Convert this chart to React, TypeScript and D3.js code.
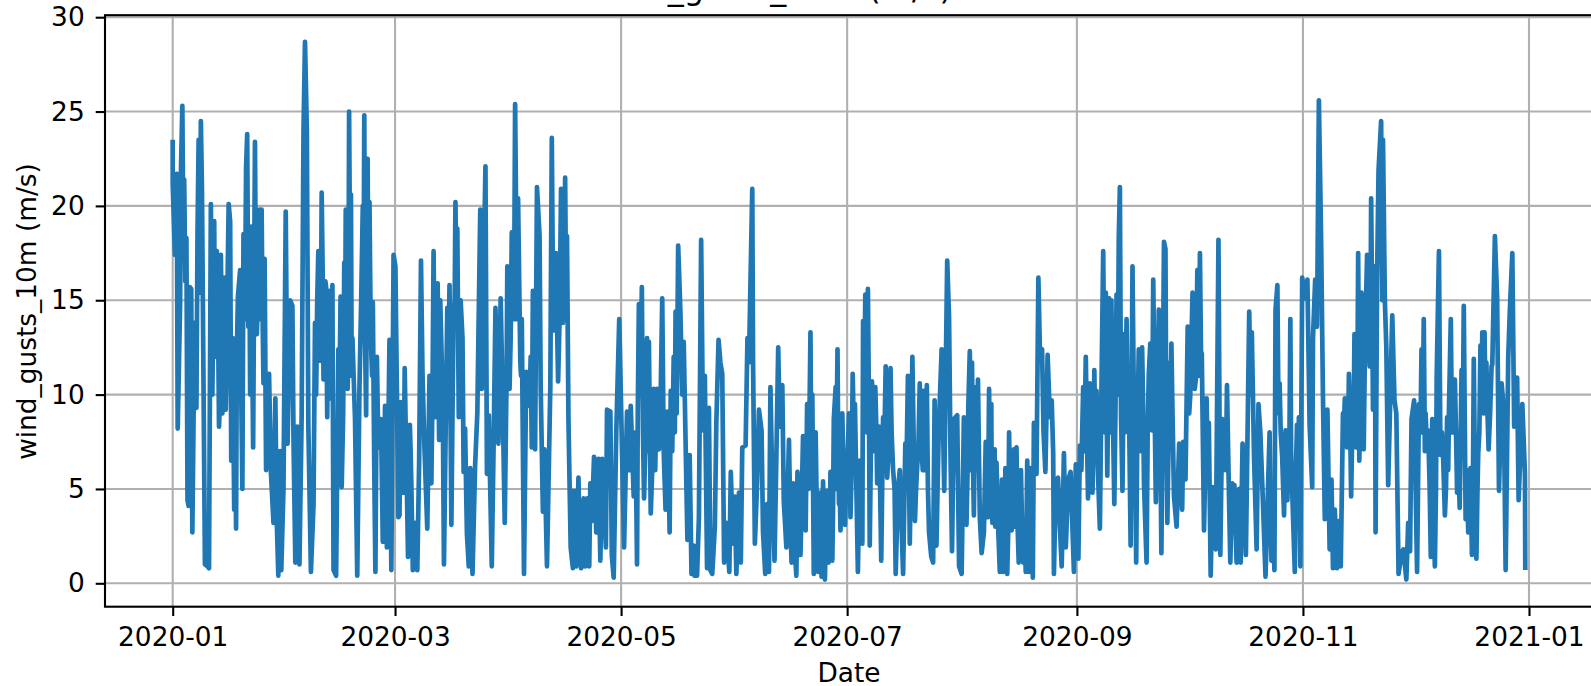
import React from "react";
import * as d3 from "d3";

// days since 2020-01-01 and gust speed (m/s)
const janFebDays = [0,0,.6,1.1,1.35,2,2.2,2.6,2.9,3.1,3.4,3.7,4,4.3,4.6,5,5.3,5.9,6.4,6.7,7,7.2,7.6,7.9,8.7,9.4,9.8,10.3,10.7,11.2,11.6,11.9,12.5,13,13.4,13.9,14.3,14.8,15.1,15.5,15.8,16.2,16.6,17.1,17.6,18.2,18.8,19.1,19.8,20.1,20.4,21.1,21.7,22.2,22.7,23.4,24,24.5,24.8,25.2,26,26.5,27.2,27.7,28.1,28.5,29,29.3,29.9,30.5,31,31.7,32.3,32.6,33.1,33.6,34.2,34.8,35.3,35.7,36.2,36.6,37.3,38,38.4,39.3,39.8,40.2,40.7,41.4,41.7,42.2,42.7,43.1,43.4,44.1,44.7,45.3,45.6,46.3,46.7,47.2,47.6,48.1,48.5,49.2,49.8,50.4,50.9,51.3,51.7,52.2,52.6,53.1,53.5,54,54.4,54.7,55.1,55.5,56.2,56.7,57.3,57.8,58.5,59,59.6,60.1,60.9];
const janFebGusts = [23.5,21.2,17.4,21.7,8.2,14.8,21.6,25.3,17.6,21.4,16,18.3,4.4,4.1,15.7,15.6,2.7,13.8,9.3,18.6,23.5,15.4,24.5,20.8,1,.9,.8,20.1,10,19.2,13.2,17.6,8.3,17.4,9,16.2,9.2,15.9,20.1,19.2,6.5,13,3.9,2.9,15.2,16.6,5,18.5,22,23.8,13.6,18.9,7.2,23.4,13.2,19.8,19.8,10.6,17.2,6,11.1,5.9,3.2,9.8,3.2,.4,7,.7,5.1,19.7,7.4,15,14.7,7.6,1.1,8.3,1,8.9,24,28.7,24,8.4,.6,4.2,13.8,17.6,11.8,20.7,10.8,15.7,8.8,15.5,9.8,15.8,.7,.4,12.4,15.2,5.1,17,19.8,10.3,25,20.6,13,8.7,.4,10.4,15.4,20,24.8,8.9,22.5,20.2,12.8,14.9,6,.6,12,7.2,8.7,2.2,9.4,1.9,12.9,.7,17.4,16.8,3.5];

const marAprDays = [61.2,61.5,62.3,62.6,63.2,63.5,64,64.4,64.8,65.5,66,66.5,67,67.4,67.9,68.7,69.3,69.8,70.4,70.8,71.5,71.9,72.6,73.2,73.8,74.1,74.7,75.2,75.8,76.3,76.8,77.2,77.7,78.5,78.9,79.4,79.9,80.3,80.9,81.6,82.2,83,83.4,83.9,84.4,84.8,85.3,86.1,86.6,87.1,87.9,88.5,89,89.6,90.3,90.9,91.5,92.4,92.9,93.2,93.8,94.2,94.8,95.4,96.3,96.9,97.2,97.8,98.3,99,99.3,99.9,100.3,101,101.9,102.3,102.8,103.4,104,104.8,105.3,105.9,106.4,106.8,107.4,108,108.3,108.9,109.5,110.2,110.9,111.3,111.9,112.4,112.7,113.1,113.7,114.3,114.9,115.4,115.9,116.9,117.2,118.1,118.5,119,119.7,120.5];
const marAprGusts = [3.6,9.6,4.8,11.4,5,1.4,8.4,5.2,.7,3.2,.7,6.4,17.1,11.2,7.4,2.9,11,5.3,17.6,8.8,15.9,7.6,11.8,1,10.2,14.6,15.8,3.1,14.4,20.2,18.8,8.8,15,5.9,8.2,2.6,.9,6.1,.5,6.2,9,19.8,10.3,16.4,22.1,5.8,8.9,.9,7.4,14.6,7.4,15.1,10.2,3.2,16.8,10.3,18.6,25.4,14,20.4,11.8,14,.5,11.2,9.4,7.2,15.5,7.1,21,18.4,10.4,3.8,7.1,.9,10.4,23.6,13.4,17.5,10.7,20.9,13.8,21.5,18.4,8.6,1.9,.8,4.9,.9,5.6,.8,4.5,.9,4.5,.9,5.3,3.3,6.7,2.7,6.6,1.2,6.6,1.9,9.2,9.1,1.5,.3,8,14];

const mayJunDays = [121.8,122.6,123.6,124.4,124.9,125.3,125.8,126.6,127.2,128,128.5,129,129.8,130.7,131.2,132.1,133,133.5,134.1,134.4,135.2,135.7,136.4,137,137.5,137.9,138.6,138.9,139.5,140,140.6,140.8,141.5,142,142.6,143.1,143.6,144.2,144.7,145.1,145.6,146.3,146.7,147.3,147.8,148.3,148.8,149.4,150.2,150.6,151.2,151.7,152.1,152.8,153.3,153.7,154.6,155.1,155.5,156.4,156.6,157.1,157.7,158.2,158.9,159.3,159.9,160.4,160.9,161.3,161.8,162.4,162.9,163.4,163.8,164.5,164.9,165.6,166.3,167,167.4,168.3,168.6,169.4,170.1,170.8,171.2,172.1,172.6,173,173.5,174.2,174.8,175.1,175.5,176,176.6,177,177.5,178,178.4,178.9,179.4,179.8,180.2,180.7,181.4];
const mayJunGusts = [1.9,9.1,9.4,4.6,8,1,14.8,15.7,4.5,13,12.8,3.7,10.3,10.3,7.1,15.1,3.9,9.1,2.7,10.2,12,14.4,17.9,14.4,10,12.8,5.4,2.3,6.8,.5,2,.4,.4,3.5,18.2,8.1,11,.8,9.3,.7,.5,3,8.5,12.9,11.7,11.1,1.1,3.2,.6,5.9,2.1,4.6,.5,4.8,1.1,7.2,7.3,13,11.7,20.9,12,2.1,5.3,9.2,8.1,2.7,.5,4.2,.6,10.4,5.3,1.2,6.7,12.5,8.3,10.5,4.4,1.9,7.6,1.1,5.3,.4,5.9,1.5,7.8,2.8,9.5,13.3,10,.5,8,.6,4.8,.35,5.4,.2,4.9,1.1,5.9,1.2,8.7,10.4,12.4,4.2,2.8,9,3.1];

const julAugDays = [182.2,182.5,182.9,183.5,184.1,184.9,185.4,186.1,186.3,186.9,187.2,187.6,188.1,188.7,189.6,190.1,190.6,191.2,191.7,192.4,192.8,193.7,194.4,195.1,195.7,196.2,197.1,197.7,198.4,198.9,199.6,200.3,200.9,201.6,202.1,202.6,203.1,203.5,204.1,204.7,205.2,205.6,206.1,206.7,207.5,208.2,209,209.5,209.9,210.3,210.8,211.7,212.2,212.9,213.5,214.2,214.7,215.1,215.7,216.2,216.7,217.3,217.8,218.3,218.9,219.4,220,220.3,220.9,221.2,221.8,222.3,222.8,223.2,223.8,224.1,224.7,225.2,225.7,226.4,227,227.7,228.3,228.9,229.5,230.2,230.6,231.1,231.6,232.1,232.4,233.1,233.6,234,234.6,235,235.5,236.1,236.7,237.2,237.6,237.8,238.3,238.9,239.4,239.9,240.5,241,241.7,242.3,243.2,243.7];
const julAugGusts = [7.2,9,3.5,11.1,9.5,.6,6.5,2.1,13.9,15.3,8,15.6,2,10.7,10.4,5.3,8.3,1.2,8.8,11.5,5.6,11.4,6,.5,4.9,6,.5,7.4,11,2.1,12,3.3,6.2,10.6,7.2,10.2,7.8,10.5,2.7,1.4,1.1,9.7,2,8,12.4,4.9,17.1,14.1,6.7,1.7,8.7,8.9,.9,.5,8.8,3.1,9.4,12.3,11.7,3.6,10.4,10.8,3.5,1.6,2.7,7.5,3.5,10.3,9.5,3.2,7.1,6.4,2.7,.6,5.5,.6,6.1,.5,8,2.8,7.1,7.2,1.1,6,1.1,.6,6.5,.6,6.1,.3,8.5,5.8,16.2,12.5,12.4,8,5.9,12.1,8.8,9.7,6.9,.5,5.3,5.6,3,.9,6.9,1.9,5.5,5.9,.6,6.3];

const sepOctDays = [244.4,244.8,245.7,246.4,247,247.5,248.2,248.7,249.3,249.8,250.2,250.7,251.1,251.8,252.2,252.7,253.3,254.1,254.7,255.3,255.6,256.3,256.7,257.4,258,258.5,259,259.6,260,260.7,261.6,262.1,262.8,263.4,263.8,264.3,264.6,265.3,266.1,266.8,267.5,267.9,268.4,268.9,269.5,270.2,270.9,271.6,272.4,272.7,273.3,273.9,274.3,275.2,275.8,276.5,277.2,277.7,278.3,279,279.6,280.1,280.6,281.5,282.2,282.7,283.2,284,284.5,285.4,285.9,286.5,287.1,287.8,288.2,288.7,289.6,290.5,291.2,291.8,292.5,293,294.2,294.9,296,296.5,297.3,297.6,298.1,298.7,299.4,299.9,300.3,300.8,301.6,302,302.8,303.4,303.9,304.3,304.8];
const sepOctGusts = [1.3,7.3,10.4,12,4.5,10.6,4.8,11.3,10.2,5.2,2.9,11.5,17.6,15.4,5.7,15.1,15,4.2,15.3,18.3,21,4.9,13.2,14,10.6,2,16.8,8.8,1.1,12.4,12.5,5.3,1.1,11.1,12.7,8.1,16.1,4.3,14.5,1.6,18.1,17.7,3.2,11.7,12.7,4.6,3,7.4,3.9,7.5,5.5,13.6,9,15.4,10.3,16.6,17.5,12.2,2.8,9.8,8.5,.4,5.1,1.8,18.2,1.5,8.7,8.6,10.5,1.1,5.3,5.2,1.1,5,1.1,7.4,1.5,14.4,13.3,6.7,1.8,9.5,4.3,.35,8,1.2,.7,14.5,15.8,10.6,6.7,3.6,8.1,4.4,14,5.5,.6,8.4,8.8,.9,16.2];

const novDecDays = [305.5,306.2,306.8,307.5,307.7,308.3,308.8,309.3,309.9,310.4,310.9,311.6,312.2,312.7,313.1,313.6,314.2,314.6,315.2,315.8,316.3,316.9,317.4,318,318.9,319.4,319.9,320.2,320.8,321.4,322.3,323,323.4,323.9,324.4,324.6,325,325.4,326.1,326.6,327.1,327.5,328,329.1,329.7,330.2,330.8,331.6,332.1,332.9,333.4,333.9,334.3,335,335.8,336.3,337,337.6,338.1,338.8,339.5,339.9,340.6,341.1,341.7,342.1,342.8,343.3,343.9,344.4,344.9,345.5,346,346.6,347.3,347.8,348.4,348.9,349.6,350.2,350.6,351.1,351.8,352.3,352.9,353.4,354,354.5,355.1,355.9,356.1,356.8,357.4,357.9,358.6,359.2,359.7,360.4,360.8,361.5,362,362.8,363.2,364.2,364.9,365];
const novDecGusts = [15.1,16.1,8.4,5.1,12.9,16.1,13.6,25.6,18.2,9.9,3.4,9.2,1.8,5.5,.8,3.9,.8,3.3,.9,9,9.8,7.2,11.1,4.6,13.2,7.2,17.5,6.5,15.4,7.1,17.4,11.5,20.4,9.2,16.8,2.7,16.1,21.9,24.5,23.5,15,12.5,5.2,14.2,9.7,9,.5,1.6,1.8,.2,3.2,1.7,8.7,9.7,.6,9.5,12.4,14,9,8.1,1.4,8.7,.9,11.1,17.6,6.8,6.9,3.6,8.8,9.2,14,10.8,10.8,4.8,4,11.3,14.7,3.4,2.7,6.1,1.5,11.9,1.3,6.9,12.6,13.3,13.3,11.7,7.1,11.5,11.6,18.4,15.1,4.9,10.6,9.2,.7,12,14.3,17.5,8.3,10.9,4.4,9.5,5.8,.7];

// in-between readings, estimated from the solid parts of the trace
const firstHalfFillDays = [10.5,11.4,12.2,12.8,13.2,13.7,14.1,14.5,16.9,17.3,18.5,19.5,20.7,20.9,21.4,22.5,23.1,23.7,24.2,38.7,39,39.5,40,40.5,41,41.2,41.9,42.4,42.9,45,46,46.5,47,47.4,47.9,48.3,51.5,51.9,52.4,52.8,53.3,53.8,62,62.9,64.2,70.1,70.6,71.1,71.7,72.2,72.9,74.4,75.5,76.1,76.6,77.5,78.2,90.1,90.6,91.2,92.1,92.7,93.5,94,96,96.6,102.6,103.1,103.7,104.4,105.1,105.6,106.2,108.5,109.2,109.8,110.5,111.1,111.6,112.2,123.2,124,125.5,126.2,126.9,127.6,128.2,129.4,130.2,130.9,131.6,132.5,133.2,134.8,135.5,136,165,165.3,166.7,167.2,167.8,168.9,169.7,170.4,171,171.6,172.3,173.2,173.8,174.5,175.3,175.8,176.3,176.8,177.3,177.8,178.2,179,179.6,180,180.5,181,181.7];
const firstHalfFillGusts = [14,12,15,10,14,11,14,11,9,12,10,14,17,10,14,14,16,14,15,10,15,12,14,16,12,16,13,11,13,10,9,12,15,12,16,11,15,13,17,14,16,11,7,8,7,10,13,12,11,15,9,12,9,15,15,10,13,11,14,13,14,19,16,11,10,12,16,15,14,14,16,15,14,2.5,3,2,3,2,3,2,6,7,9,10,8,8,7,6,6,8,9,7,6,7,8,9,4,3,3,3.5,2,3,4,5,6,5,7,5,4,3,3,2.5,3,3,3,3,4,5,7,5,5,6,5];
const secondHalfFillDays = [182.7,183.2,183.8,184.5,185.7,186.6,187.4,187.9,188.4,189.1,189.9,190.4,190.9,192,192.6,193.2,194,194.8,198,198.7,199.3,200,200.6,201.2,201.9,202.4,202.9,203.3,203.8,214.5,215.4,215.9,216.4,217,219.7,220.6,221,221.5,222,222.5,223.5,224.4,225,225.5,226,226.7,227.3,228,228.6,229.2,229.9,230.4,230.9,231.4,231.9,245.2,246,246.7,247.3,247.8,248.5,249,249.5,251.5,252,252.4,253,253.7,254.4,255,255.9,256.5,257,257.7,258.2,259.3,260.3,261,261.3,261.9,263.1,264,265,265.7,266.5,268.1,268.7,269.2,269.8,274.6,275.5,276.2,276.9,277.5,279.3,283.6,284.2,285,286.2,286.8,290.9,291.5,293.5,296.2,296.8,297,298.4,299,300.1,300.5,301,301.3,301.8,303.1,303.7,304.1,316,316.6,317.2,317.7,318.4,318.7,319.1,319.7,320.5,321.1,321.7,322.7,323.2,323.7,324.2,326.4,336.7,337.3,337.9,338.5,339.2,340.2,340.9,342.5,343.6,344.2,345.2,345.8,346.3,347,348.1,349.2,349.9,350.9,351.4,352.1,352.6,353.1,353.7,354.3,354.8,355.5];
const secondHalfFillGusts = [7,6,8,5,5,10,9,9,7,7,8,7,5,7,8,7,8,5,6,6,7,7,5,7,7,6,6,7,5,6,6,7,7,6,5,5,5,5,3,5,3,3,3,3,4,4,3,3,3,3,3,3,3,3,3,6,7,8,7,7,7,7,8,8,10,9,8,9,9,10,9,9,8,9,7,11,8,8,7,9,8,9,9,9,8,9,7,8,9,10,12,11,11,12,6,6,6,5,3,3,10,10,8,4,3,3,9,8,6,5,7,6,7,6,5,5,8,9,8,9,9,9,10,11,9,11,12,13,13,14,12,15,8,8,7,7,5,4,5,8,5,6,8,8,8,6,8,6,4,6,6,5,8,9,9,9,9,9];

const dayNumbers = [...janFebDays, ...marAprDays, ...mayJunDays, ...julAugDays, ...sepOctDays, ...novDecDays, ...firstHalfFillDays, ...secondHalfFillDays];
const gusts = [...janFebGusts, ...marAprGusts, ...mayJunGusts, ...julAugGusts, ...sepOctGusts, ...novDecGusts, ...firstHalfFillGusts, ...secondHalfFillGusts];

const yTicks = [0, 5, 10, 15, 20, 25, 30];
const xTickLabels = ["2020-01", "2020-03", "2020-05", "2020-07", "2020-09", "2020-11", "2021-01"];
const yLabel = "wind_gusts_10m (m/s)";
const xLabel = "Date";
const titleText = "wind_gusts_10m (m/s)";

const parseMonth = d3.utcParse("%Y-%m");
const startDate = parseMonth("2020-01") as Date;

const App: React.FC = () => {
  const ref = React.useRef<SVGSVGElement>(null);

  React.useEffect(() => {
    const svg = d3.select(ref.current);
    svg.selectAll("*").remove();
    const font = "'DejaVu Sans'";

    const left = 105;
    const bottom = 606.7;
    const top = 15.2;
    const right = 1596;

    const x = d3
      .scaleUtc()
      .domain([startDate, parseMonth("2021-01") as Date])
      .range([172.7, 1529]);
    const y = d3.scaleLinear().domain([0, 30]).range([583.3, 17.2]);

    const xTicks = xTickLabels.map((d) => parseMonth(d) as Date);

    // grid first so the line sits on top
    svg
      .append("g")
      .selectAll("line")
      .data(xTicks)
      .join("line")
      .attr("x1", (d) => x(d))
      .attr("x2", (d) => x(d))
      .attr("y1", top)
      .attr("y2", bottom)
      .attr("stroke", "#b0b0b0")
      .attr("stroke-width", 2.1);
    svg
      .append("g")
      .selectAll("line")
      .data(yTicks)
      .join("line")
      .attr("x1", left)
      .attr("x2", right)
      .attr("y1", (d) => y(d))
      .attr("y2", (d) => y(d))
      .attr("stroke", "#b0b0b0")
      .attr("stroke-width", 2.1);

    const points = d3.sort(
      d3.zip(dayNumbers, gusts),
      (a, b) => a[0] - b[0]
    );
    const line = d3
      .line<number[]>()
      .x((d) => x(new Date(startDate.getTime() + d[0] * 864e5)))
      .y((d) => y(d[1]));
    svg
      .append("path")
      .datum(points)
      .attr("fill", "none")
      .attr("stroke", "#1f77b4")
      .attr("stroke-width", 4.7)
      .attr("stroke-linejoin", "round")
      .attr("d", line);

    const xAxis = svg
      .append("g")
      .attr("transform", "translate(0," + bottom + ")")
      .call(
        d3
          .axisBottom(x)
          .tickValues(xTicks)
          .tickFormat((d) => d3.utcFormat("%Y-%m")(d as Date))
          .tickSizeOuter(0)
          .tickSize(9.3)
          .tickPadding(11)
      );
    const yAxis = svg
      .append("g")
      .attr("transform", "translate(" + left + ",0)")
      .call(d3.axisLeft(y).tickValues(yTicks).tickSizeOuter(0).tickSize(9.3).tickPadding(11));

    [xAxis, yAxis].forEach((g) => {
      g.select(".domain").remove();
      g.selectAll("line").attr("stroke", "#000").attr("stroke-width", 2.1);
      g.selectAll("text").attr("font-family", font).attr("font-size", 26.4).attr("fill", "#000");
    });

    // spines, the right one falls outside the picture
    svg
      .append("rect")
      .attr("x", left)
      .attr("y", top)
      .attr("width", right - left)
      .attr("height", bottom - top)
      .attr("fill", "none")
      .attr("stroke", "#000")
      .attr("stroke-width", 2.1);

    svg
      .append("text")
      .attr("x", 772)
      .attr("y", -0.7)
      .attr("text-anchor", "middle")
      .attr("font-family", font)
      .attr("font-size", 32)
      .text(titleText);
    svg
      .append("text")
      .attr("x", 849)
      .attr("y", 681.7)
      .attr("text-anchor", "middle")
      .attr("font-family", font)
      .attr("font-size", 26.4)
      .text(xLabel);
    svg
      .append("text")
      .attr("transform", "translate(35.5,311.5) rotate(-90)")
      .attr("text-anchor", "middle")
      .attr("font-family", font)
      .attr("font-size", 26.4)
      .text(yLabel);
  }, []);

  return (
    <svg
      ref={ref}
      width={1591}
      height={686}
      style={{ position: "absolute", left: 0, top: 0, background: "#fff" }}
    />
  );
};

export default App;
